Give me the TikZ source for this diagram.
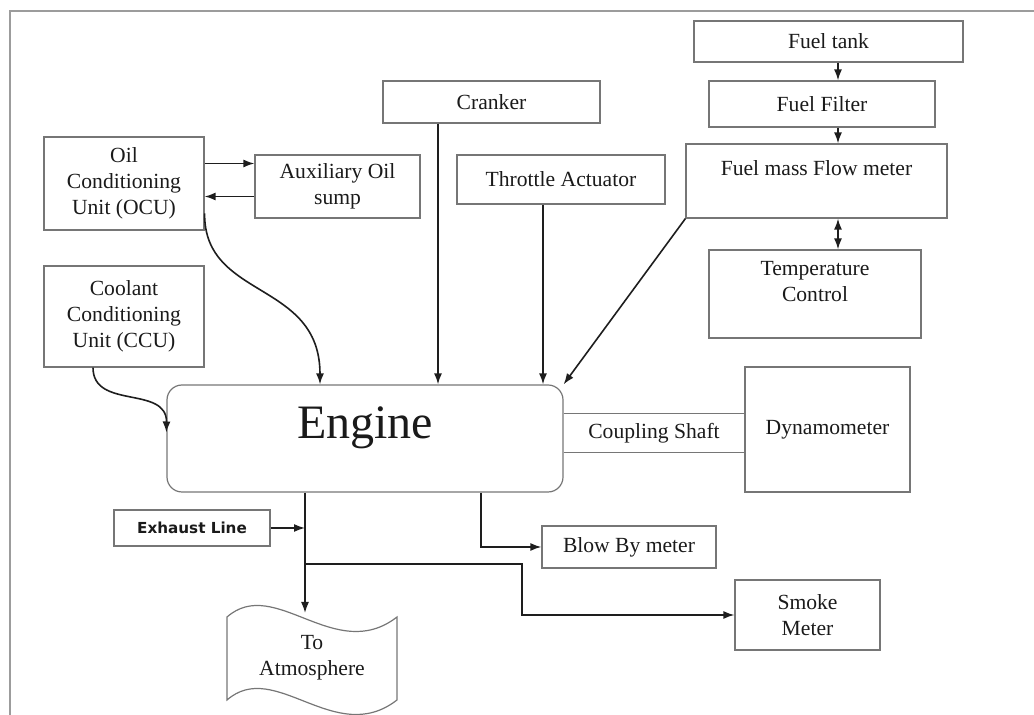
\documentclass[tikz,border=0pt]{standalone}
\usepackage{fontspec}
\setmainfont{Liberation Serif}
\newfontfamily\exfont{DejaVu Sans}
\usetikzlibrary{
  arrows.meta,
  positioning,
  calc
}
\definecolor{egLine}{HTML}{1E1E1E}
\definecolor{egBox}{HTML}{767676}
\definecolor{egFrame}{HTML}{9C9C9C}
\definecolor{egText}{HTML}{1A1A1A}
\tikzset{
  egnode/.style={
    draw=egBox, line width=0.6pt, inner sep=0pt, align=center,
    text=egText, font=\fontsize{10.8}{13}\selectfont
  },
  enginebox/.style={egnode, rounded corners=7.5pt, font=\fontsize{24}{28}\selectfont,
    text height=16pt, text depth=16pt},
  exnode/.style={egnode, font=\exfont\bfseries\fontsize{7.6}{10}\selectfont},
  plaintext/.style={inner sep=0pt, align=center, text=egText, font=\fontsize{10.8}{13}\selectfont},
  flow/.style={-{Latex[length=5.5pt,width=4pt]}, line width=0.8pt, egLine},
  twoway/.style={{Latex[length=5.5pt,width=4pt]}-{Latex[length=5.5pt,width=4pt]}, line width=0.8pt, egLine},
  shaftline/.style={line width=0.6pt, egBox},
  frame/.style={line width=1pt, egFrame}
}
\begin{document}
\begin{tikzpicture}[x=0.5pt, y=-0.5pt]
  \useasboundingbox (0,0) rectangle (1034,715);
  \draw[frame] (1034,11) -- (10,11) -- (10,715);

  % fuel supply
  \node[egnode, minimum width=134.5pt, minimum height=20.5pt] (tank) at (828.5,41.5) {Fuel tank};
  \node[egnode, minimum width=113pt, minimum height=23pt] (filter) at (822,104) {Fuel Filter};
  \node[egnode, minimum width=130.5pt, minimum height=37pt] (fmeter) at (816.5,181) {Fuel mass Flow meter\\ ~};
  \node[egnode, minimum width=106pt, minimum height=44pt] (tcontrol) at (815,294) {Temperature\\Control\\ ~};

  % inputs to the engine
  \node[egnode, minimum width=108.5pt, minimum height=21pt] (cranker) at (491.5,102) {Cranker};
  \node[egnode, minimum width=104pt, minimum height=24.5pt] (throttle) at (561,179.5) {Throttle Actuator};
  \node[egnode, minimum width=80pt, minimum height=46.5pt] (ocu) at (124,183.5) {Oil\\Conditioning\\Unit (OCU)};
  \node[egnode, minimum width=82.5pt, minimum height=31.5pt] (sump) at (337.5,186.5) {Auxiliary Oil\\sump};
  \node[egnode, minimum width=80pt, minimum height=50.5pt] (ccu) at (124,316.5) {Coolant\\Conditioning\\Unit (CCU)};

  \node[enginebox, minimum width=198pt, minimum height=53.5pt] (engine) at (365,438.5) {Engine};
  \node[egnode, minimum width=82.5pt, minimum height=62.5pt] (dyno) at (827.5,429.5) {Dynamometer};
  \node[plaintext, minimum height=19pt] (shaft) at (654,433) {Coupling Shaft};

  % outputs
  \node[exnode, minimum width=78pt, minimum height=18pt] (exline) at (192,528) {Exhaust Line};
  \node[egnode, minimum width=87pt, minimum height=21pt] (blowby) at (629,547) {Blow By meter};
  \node[egnode, minimum width=72.5pt, minimum height=35pt] (smoke) at (807.5,615) {Smoke\\Meter};
  \node[plaintext] (atmos) at (312,658) {To\\Atmosphere};
  \draw[shaftline] (227,617) .. controls (275,575) and (335,665) .. (397,617) -- (397,700)
    .. controls (335,748) and (275,658) .. (227,700) -- cycle;

  \coordinate (fuelx) at (838,0);
  \coordinate (crankx) at (438,0);
  \coordinate (throtx) at (543,0);
  \coordinate (ocux) at (320,0);
  \coordinate (exhx) at (305,0);
  \coordinate (blowx) at (481,0);
  \coordinate (smokex) at (522,0);
  \coordinate (split) at (305,564);
  \coordinate (atmtop) at (305,613);

  \foreach \s/\e in {tank/filter, filter/fmeter}{\draw[flow] (\s.south -| fuelx) -- (\e.north -| fuelx);}
  \draw[twoway] (fmeter.south -| fuelx) -- (tcontrol.north -| fuelx);
  \foreach \s/\x in {cranker/crankx, throttle/throtx}{\draw[flow] (\s.south -| \x) -- (engine.north -| \x);}
  \draw[flow] (fmeter.south west) -- (engine.north east);
  \draw[flow] ([yshift=10pt]ocu.east) -- ([yshift=10pt]ocu.east -| sump.west);
  \draw[flow] ([yshift=-5pt]sump.west) -- ([yshift=-5pt]sump.west -| ocu.east);
  \draw[flow] ([yshift=-15pt]ocu.east) .. controls (204,300) and (320,280) .. (engine.north -| ocux);
  \draw[flow] ([xshift=-15.5pt]ccu.south) .. controls (93,410) and (167,385) .. ([yshift=3pt]engine.west);

  \draw[shaftline] (engine.east |- shaft.north) -- (dyno.west |- shaft.north);
  \draw[shaftline] (engine.east |- shaft.south) -- (dyno.west |- shaft.south);

  \draw[flow] (engine.south -| exhx) -- (atmtop);
  \draw[flow] (exline.east) -- (exline.east -| exhx);
  \draw[flow] (split) -- (split -| smokex) |- (smoke.west);
  \draw[flow] (engine.south -| blowx) |- (blowby.west);
\end{tikzpicture}
\end{document}
